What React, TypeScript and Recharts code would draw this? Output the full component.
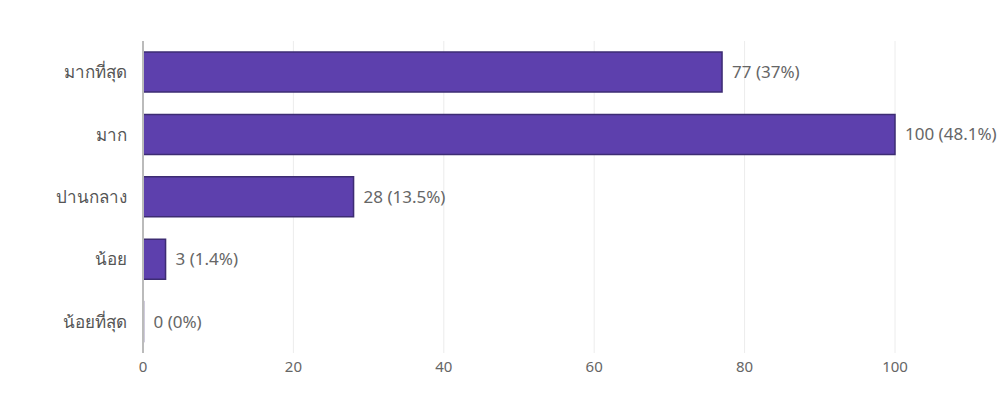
import { BarChart, Bar, XAxis, YAxis, CartesianGrid, LabelList } from "recharts";

const levels = ["มากที่สุด", "มาก", "ปานกลาง", "น้อย", "น้อยที่สุด"];
const counts = [77, 100, 28, 3, 0];
const percents = ["37%", "48.1%", "13.5%", "1.4%", "0%"];
const xTicks = [0, 20, 40, 60, 80, 100];

const data = levels.map((level, i) => ({
  level,
  count: counts[i],
  label: `${counts[i]} (${percents[i]})`,
}));

const renderLabel = (props: any) => {
  const { x, y, width, height, value } = props;
  return (
    <text
      x={Number(x) + Number(width) + 10}
      y={Number(y) + Number(height) / 2}
      dy={6}
      fill="#666"
      fontSize={17}
    >
      {value}
    </text>
  );
};

export default function App() {
  return (
    <div style={{ position: "absolute", left: 0, top: 0, fontFamily: "Noto Sans, sans-serif" }}>
      <BarChart
        width={1000}
        height={417}
        data={data}
        layout="vertical"
        margin={{ top: 41, right: 105, bottom: 34, left: 20 }}
        barCategoryGap={11}
      >
        <CartesianGrid horizontal={false} stroke="#ececec" />
        <XAxis
          type="number"
          domain={[0, 100]}
          ticks={xTicks}
          axisLine={false}
          tickLine={false}
          tick={{ fill: "#666", fontSize: 15 }}
          height={30}
        />
        <YAxis
          type="category"
          dataKey="level"
          width={123}
          axisLine={{ stroke: "#bbb", strokeWidth: 2 }}
          tickLine={false}
          tick={{ fill: "#555", fontSize: 17, dx: -8 }}
        />
        <Bar
          dataKey="count"
          fill="#5d40ad"
          stroke="#3d2c73"
          strokeWidth={1.5}
          minPointSize={0.5}
          isAnimationActive={false}
        >
          <LabelList dataKey="label" content={renderLabel} />
        </Bar>
      </BarChart>
    </div>
  );
}
